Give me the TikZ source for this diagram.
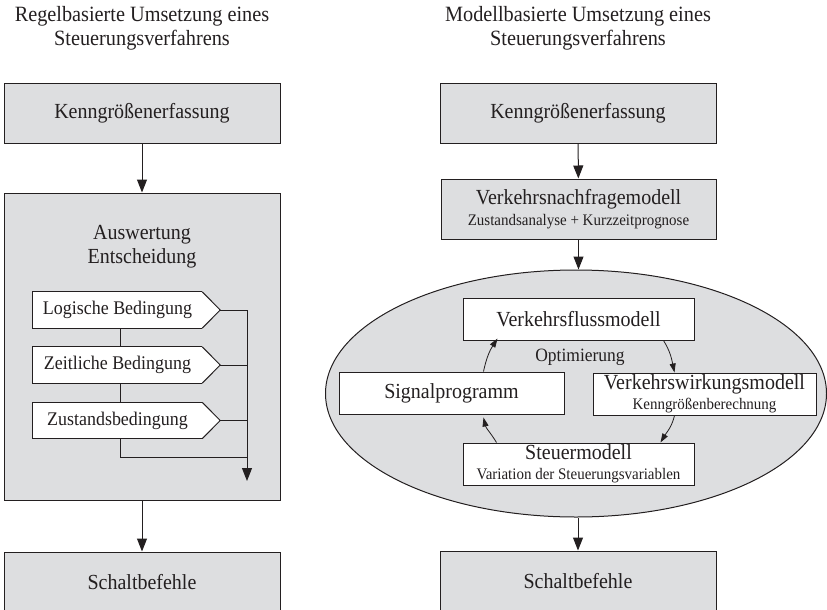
\documentclass[tikz,border=0pt]{standalone}
\usepackage{fontspec}
\setmainfont{Liberation Serif}[FakeStretch=0.93]
\usetikzlibrary{arrows.meta,shapes.geometric}
\definecolor{boxgrey}{RGB}{221,222,224}
\definecolor{ink}{RGB}{35,31,32}
\newcommand{\bigtext}{\fontsize{21.5}{24}\selectfont}
\newcommand{\smalltext}{\fontsize{16.1}{19}\selectfont}
\tikzset{
  base/.style={draw=ink, line width=1pt, inner sep=0pt, text=ink},
  greybox/.style={base, fill=boxgrey, minimum height=60pt, align=center, font=\bigtext},
  whitebox/.style={base, fill=white, minimum height=42pt, align=center, font=\bigtext},
  condbox/.style={fill=white, inner sep=0pt, minimum width=169pt, minimum height=36pt,
    text=ink, font=\fontsize{19.3}{22}\selectfont},
  label/.style={text=ink, inner sep=0pt, align=center, font=\bigtext},
  flow/.style={draw=ink, line width=1pt, -{Triangle[width=10pt,length=13pt]}},
  loop/.style={draw=ink, line width=0.8pt, -{Triangle[width=6pt,length=9pt]}},
  wire/.style={draw=ink, line width=1pt},
}
\begin{document}
\begin{tikzpicture}[x=1pt,y=-1pt]
\useasboundingbox (0,0) rectangle (827,610);

% ---------- rule based column ----------
\node[label, font=\fontsize{21.8}{24}\selectfont] (ltitle) at (142,28)
  {Regelbasierte Umsetzung eines\\Steuerungsverfahrens};
\node[greybox, minimum width=276pt] (lk) at (142,113) {Kenngrößenerfassung};
\node[base, fill=boxgrey, minimum width=276pt, minimum height=307pt] (la) at (142,346.5) {};
\node[label] (lat) at (142,247) {Auswertung\\Entscheidung};

\node[condbox] (c1) at (117.5,310) {Logische Bedingung};
\node[condbox] (c2) at (117.5,365) {Zeitliche Bedingung};
\node[condbox] (c3) at (117.5,420.5) {Zustandsbedingung};
\foreach \c in {c1,c2,c3}{
  \filldraw[draw=ink, fill=white, line width=1pt, line join=miter]
    (\c.north east) -- ([xshift=18pt]\c.east) -- (\c.south east);
  \draw[ink, line width=1pt] (\c.north east) -- (\c.north west) -- (\c.south west) -- (\c.south east);
  \coordinate (\c tip) at ([xshift=18pt]\c.east);
}
\coordinate (busend) at (247,481);
\coordinate (busj) at (247,457);
\draw[wire] (c1tip) -- (c1tip -| busend);
\draw[wire] (c2tip) -- (c2tip -| busend);
\draw[wire] (c3tip) -- (c3tip -| busend);
\draw[flow] (c1tip -| busend) -- (busend);
\draw[wire] ([xshift=3pt]c1.south) -- ([xshift=3pt]c2.north);
\draw[wire] ([xshift=3pt]c2.south) -- ([xshift=3pt]c3.north);
\draw[wire] ([xshift=3pt]c3.south) |- (busj);

\node[greybox, minimum width=276pt] (ls) at (142,582) {Schaltbefehle};
\draw[flow] (lk) -- (la);
\draw[flow] (la) -- (ls);

% ---------- model based column ----------
\node[label, font=\fontsize{21.8}{24}\selectfont] (rtitle) at (578,28)
  {Modellbasierte Umsetzung eines\\Steuerungsverfahrens};
\node[greybox, minimum width=276pt] (rk) at (578,113) {Kenngrößenerfassung};
\node[greybox, minimum width=275pt] (rv) at (578.5,209)
  {Verkehrsnachfragemodell\\[-3pt]{\smalltext Zustandsanalyse + Kurzzeitprognose}};
\node[ellipse, base, fill=boxgrey, minimum width=501pt, minimum height=247pt] (ell) at (576,393.5) {};

\node[whitebox, minimum width=231pt] (vfm) at (578.5,319) {Verkehrsflussmodell};
\node[whitebox, minimum width=225pt] (sp) at (451.5,393) {Signalprogramm};
\node[whitebox, minimum width=223pt] (vwm) at (704.5,394)
  {Verkehrswirkungsmodell\\[-4pt]{\smalltext Kenngrößenberechnung}};
\node[whitebox, minimum width=231pt] (sm) at (578.5,464)
  {Steuermodell\\[-4pt]{\smalltext Variation der Steuerungsvariablen}};
\node[label, font=\fontsize{18.8}{22}\selectfont] (opt) at (580,357) {Optimierung};

\draw[loop] ([xshift=-31pt]vfm.south east) to[out=-58, in=102] ([xshift=82pt]vwm.north west);
\draw[loop] ([xshift=82pt]vwm.south west) to[out=-103, in=59] ([xshift=-34pt]sm.north east);
\draw[loop] ([xshift=34pt]sm.north west) to[out=121, in=-77] ([xshift=-81pt,yshift=-3pt]sp.south east);
\draw[loop] ([xshift=-81pt]sp.north east) to[out=78, in=237] ([xshift=35pt,yshift=2pt]vfm.south west);

\node[greybox, minimum width=276pt] (rs) at (578,581) {Schaltbefehle};
\draw[flow] (rk) -- (rv);
\draw[flow] (rv.south) -- (rv.south |- ell.north);
\draw[flow] (rs.north |- ell.south) -- (rs.north);
\end{tikzpicture}
\end{document}
